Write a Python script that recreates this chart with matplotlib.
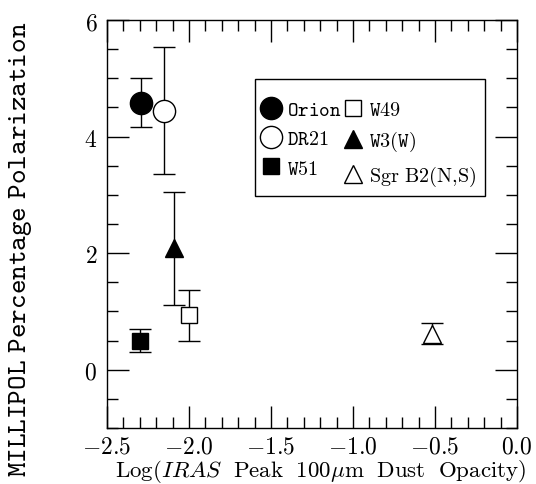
import numpy as np
import matplotlib
matplotlib.use('Agg')
from matplotlib import pyplot as plt
from matplotlib.patches import Rectangle
from matplotlib.ticker import MultipleLocator, FuncFormatter

plt.rcParams['mathtext.fontset'] = 'cm'
plt.rcParams['font.family'] = 'DejaVu Serif'

# log peak 100um dust opacity, percentage polarization, error
names = ['Orion', 'DR21', 'W51', 'W49', 'W3(W)', 'Sgr B2(N,S)']
log_tau = [-2.29, -2.15, -2.30, -2.00, -2.09, -0.52]
pol = [4.58, 4.44, 0.50, 0.93, 2.08, 0.62]
pol_err = [0.42, 1.09, 0.20, 0.44, 0.97, 0.18]

labels = [r'$\mathtt{Orion}$', r'$\mathtt{DR21}$', r'$\mathtt{W51}$',
          r'$\mathtt{W49}$', r'$\mathtt{W3(W)}$', r'$\mathrm{Sgr\ B2(N,\!S)}$']
markers = ['o', 'o', 's', 's', '^', '^']
filled = [True, False, True, False, True, False]
sizes = [16, 16, 11, 11, 13, 13]


def main():
    fig = plt.figure(figsize=(5.36, 4.85), dpi=100)
    ax = fig.add_axes([0.1996, 0.1155, 0.765, 0.8412])

    handles = []
    for i in range(len(names)):
        face = 'black' if filled[i] else 'white'
        ax.errorbar(log_tau[i], pol[i], yerr=pol_err[i], fmt='none',
                    ecolor='black', elinewidth=1.0, capsize=8, capthick=1.0,
                    zorder=2)
        h, = ax.plot(log_tau[i], pol[i], linestyle='none', marker=markers[i],
                     markersize=sizes[i], markerfacecolor=face,
                     markeredgecolor='black', markeredgewidth=1.0, zorder=3)
        handles.append(h)

    ax.set_xlim(-2.5, 0.0)
    ax.set_ylim(-1, 6)
    ax.xaxis.set_major_locator(MultipleLocator(0.5))
    ax.xaxis.set_minor_locator(MultipleLocator(0.1))
    ax.yaxis.set_major_locator(MultipleLocator(2))
    ax.yaxis.set_minor_locator(MultipleLocator(0.5))
    ax.xaxis.set_major_formatter(FuncFormatter(lambda v, p: r'$%.1f$' % v))
    ax.yaxis.set_major_formatter(FuncFormatter(lambda v, p: r'$%d$' % round(v)))
    ax.tick_params(which='both', direction='in', top=True, right=True,
                   width=1.0, labelsize=17)
    ax.tick_params(axis='x', pad=5)
    ax.tick_params(axis='y', pad=7)
    ax.tick_params(which='major', length=16)
    ax.tick_params(which='minor', length=8)
    for s in ax.spines.values():
        s.set_linewidth(1.0)

    ax.set_xlabel(r'$\mathrm{Log(}\mathit{IRAS}\ \ \mathrm{Peak\ \ 100}\mu\mathrm{m\ \ Dust\ \ Opacity)}$',
                  fontsize=16.5, va='baseline')
    ax.xaxis.set_label_coords(0.52, -0.118)
    ax.set_ylabel(r'$\mathtt{MILLIPOL\ Percentage\ Polarization}$',
                  fontsize=20)
    ax.yaxis.set_label_coords(-0.178, 0.44)

    # legend box drawn separately so padding can differ per side
    ax.add_patch(Rectangle((0.361, 0.569), 0.561, 0.286, transform=ax.transAxes,
                           facecolor='white', edgecolor='black', linewidth=1.0,
                           zorder=4))
    leg = ax.legend(handles, labels, ncol=2, loc='upper left',
                    bbox_to_anchor=(0.373, 0.805), frameon=False,
                    fontsize=14.5, handletextpad=0.25, columnspacing=0.0,
                    handlelength=1.1, borderpad=0, borderaxespad=0,
                    labelspacing=0.52)
    leg.set_zorder(5)

    fig.savefig('out.png', dpi=100)


if __name__ == '__main__':
    main()
